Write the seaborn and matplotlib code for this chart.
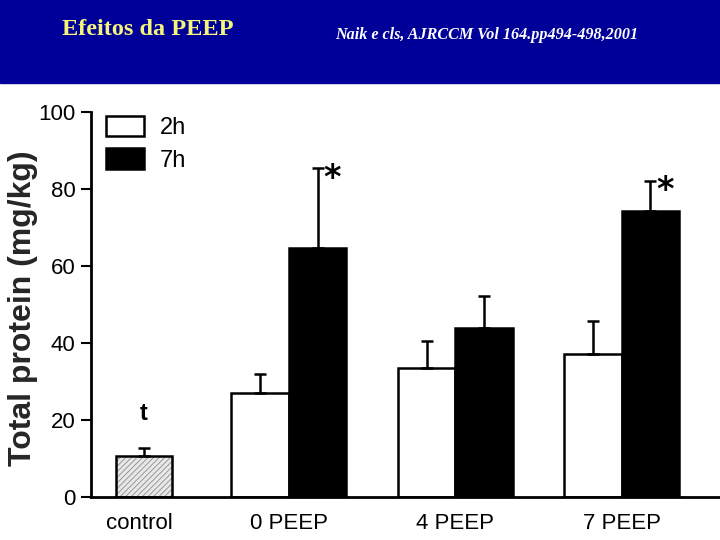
import matplotlib
matplotlib.use('Agg')
import numpy as np
import pandas as pd
import matplotlib.pyplot as plt
import seaborn as sns
from matplotlib.patches import Rectangle

# ── Data ─────────────────────────────────────────────────────────────────────
groups = ['control', '0 PEEP', '4 PEEP', '7 PEEP']
times = ['2h', '7h']
peep_groups = ['0 PEEP', '4 PEEP', '7 PEEP']
control_mean = [10.6]
control_sem = [2.0]
mean_2h = [26.9, 33.4, 37.1]
sem_2h = [5.0, 7.1, 8.7]
mean_7h = [64.7, 43.9, 74.3]
sem_7h = [20.6, 8.4, 7.7]
star_groups = ['0 PEEP', '7 PEEP']   # * on the 7h bar

# ── Style ────────────────────────────────────────────────────────────────────
sns.set_style('white')
SANS = ['Liberation Sans Narrow', 'Liberation Sans', 'DejaVu Sans']
plt.rcParams['font.family'] = SANS
plt.rcParams['text.color'] = 'black'
plt.rcParams['xtick.color'] = 'black'
plt.rcParams['ytick.color'] = 'black'
plt.rcParams['hatch.linewidth'] = 0.6

df = pd.DataFrame({
    'group': peep_groups * 2,
    'time': ['2h'] * 3 + ['7h'] * 3,
    'value': mean_2h + mean_7h,
})
ctrl = pd.DataFrame({'group': ['control'], 'value': control_mean})

fig = plt.figure(figsize=(7.2, 5.4), dpi=100)
fig.patches.append(Rectangle((0, 0.846), 1, 0.154, transform=fig.transFigure,
                             color='#000099', zorder=0))
ax = fig.add_axes([0.126, 0.0796, 0.874, 0.7134])

sns.barplot(data=df, x='group', y='value', hue='time', order=groups,
            hue_order=times, palette={'2h': 'white', '7h': 'black'},
            edgecolor='black', linewidth=1.8, width=0.69, errorbar=None,
            saturation=1, ax=ax)
sns.barplot(data=ctrl, x='group', y='value', order=groups, color='#e8e8e8',
            edgecolor='black', linewidth=1.8, width=0.34, errorbar=None,
            saturation=1, ax=ax)

c2h, c7h, cctrl = ax.containers[0], ax.containers[1], ax.containers[2]
for p in cctrl:
    p.set_x(p.get_x() + 0.13)
    p.set_hatch('//////')
    p.set_edgecolor('black')
    p._hatch_color = (0.55, 0.55, 0.55, 1.0)   # light grey stipple

# error bars (upper only)
for cont, means, sems in [(c2h, mean_2h, sem_2h), (c7h, mean_7h, sem_7h),
                          (cctrl, control_mean, control_sem)]:
    xs = [p.get_x() + p.get_width() / 2 for p in cont]
    ax.errorbar(xs, means, yerr=[np.zeros(len(sems)), sems], fmt='none',
                ecolor='black', elinewidth=1.8, capsize=4, capthick=1.8,
                zorder=3)

# significance marks
for p, g, m, s in zip(c7h, peep_groups, mean_7h, sem_7h):
    if g in star_groups:
        ax.text(p.get_x() + p.get_width() / 2 + 0.09, m + s - 2.5, '*',
                fontsize=24, fontweight='bold', ha='center', va='center',
                family='DejaVu Sans')
pc = cctrl[0]
ax.text(pc.get_x() + pc.get_width() / 2, 21.8, 't', fontsize=17,
        fontweight='bold', ha='center', va='center')

ax.set_ylim(0, 100)
ax.set_xlim(-0.19, 3.59)
ax.set_yticks([0, 20, 40, 60, 80, 100])
ax.set_xticks([0.1, 1, 2, 3])
ax.set_xticklabels(groups)
ax.tick_params(axis='y', left=True, length=7, width=1.5, labelsize=16,
               pad=4)
ax.tick_params(axis='x', bottom=False, labelsize=16, pad=8)
ax.set_xlabel('')
ax.set_ylabel('Total protein (mg/kg)', fontsize=23, fontweight='bold',
              family=['Liberation Sans', 'DejaVu Sans'])
ax.yaxis.set_label_coords(-0.083, 0.49)
sns.despine(ax=ax)
for side in ['left', 'bottom']:
    ax.spines[side].set_linewidth(2)
    ax.spines[side].set_color('black')

handles, labels = ax.get_legend_handles_labels()
ax.legend(handles[:2], labels[:2], loc='upper left',
          bbox_to_anchor=(0.024, 0.99), frameon=False, fontsize=17,
          handlelength=1.6, handleheight=0.95, borderpad=0,
          borderaxespad=0, labelspacing=0.4, handletextpad=0.7)

fig.text(0.086, 0.945, 'Efeitos da PEEP', color='#F5F57A', fontsize=17.5,
         fontweight='bold', family='Liberation Serif', va='center')
fig.text(0.466, 0.936, 'Naik e cls, AJRCCM Vol 164.pp494-498,2001',
         color='white', fontsize=11.6, style='italic', fontweight='bold',
         family='Liberation Serif', va='center')

fig.savefig('out.png', dpi=100)
